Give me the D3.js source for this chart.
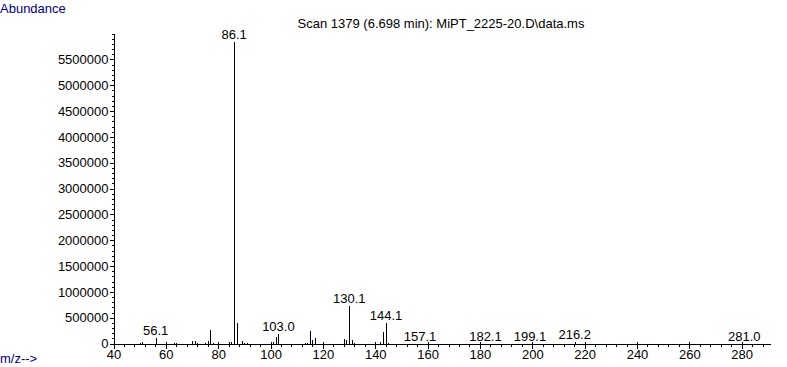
<!DOCTYPE html>
<html lang="en">
<head>
  <meta charset="UTF-8">
  <title>Scan 1379 - mass spectrum</title>
  <script src="https://d3js.org/d3.v7.min.js"></script>
  <style>
    body {
      margin: 0;
      background: #fff;
      font-family: 'Liberation Sans', Arial, sans-serif;
    }
    svg text {
      font-size: 13px;
      fill: #000;
    }
    .axis path, .axis line {
      stroke: #000;
      shape-rendering: crispEdges;
    }
    .peak {
      stroke: #000;
      stroke-width: 1;
      shape-rendering: crispEdges;
    }
    .blue { fill: #000080 !important; }
  </style>
</head>
<body>
<svg id="chart" width="787" height="367"></svg>
<script>
  // m/z of each peak and its abundance
  const mz = [50, 51, 56.1, 63, 64, 70, 71, 72, 75, 76, 77, 78, 84, 85, 86.1, 87, 89, 90, 91,
              101, 102, 103.0, 113, 114, 115, 116, 117, 128, 129, 130.1, 131, 132,
              140, 142, 143, 144.1, 145, 157.1, 182.1, 199.1, 216.2, 281.0];
  const abundance = [30000, 40000, 135000, 35000, 25000, 70000, 65000, 20000, 30000, 70000, 285000, 25000,
                     40000, 45000, 5860000, 420000, 70000, 35000, 35000,
                     50000, 145000, 205000, 20000, 25000, 260000, 90000, 130000, 100000, 95000, 745000, 85000, 25000,
                     15000, 55000, 250000, 425000, 20000, 15000, 10000, 12000, 45000, 10000];

  // labelled peaks
  const labelMz = [56.1, 86.1, 103.0, 130.1, 144.1, 157.1, 182.1, 199.1, 216.2, 281.0];

  const xTicks = d3.range(40, 281, 20);
  const yTicks = d3.range(0, 5500001, 500000);

  const title = "Scan 1379 (6.698 min): MiPT_2225-20.D\\data.ms";

  const svg = d3.select("#chart");

  const x = d3.scaleLinear().domain([40, 291]).range([113.5, 770.5]);
  const y = d3.scaleLinear().domain([0, 6000000]).range([343.5, 33.5]);

  const peaks = mz.map((m, i) => ({ mz: m, value: abundance[i] }));

  // minor y ticks
  svg.append("g")
    .attr("class", "axis")
    .attr("transform", "translate(113.5,0)")
    .call(d3.axisLeft(y).tickValues(d3.range(0, 6000001, 100000)).tickSize(2).tickSizeOuter(0).tickFormat(""))
    .call(g => g.select(".domain").remove());

  // major y ticks
  svg.append("g")
    .attr("class", "axis")
    .attr("transform", "translate(113.5,0)")
    .call(d3.axisLeft(y).tickValues(yTicks).tickSize(4).tickPadding(1).tickSizeOuter(0).tickFormat(d3.format("d")))
    .call(g => g.selectAll("text").attr("font-size", null));

  // minor x ticks
  svg.append("g")
    .attr("class", "axis")
    .attr("transform", "translate(0,343.5)")
    .call(d3.axisBottom(x).tickValues(d3.range(40, 291, 4)).tickSize(3).tickSizeOuter(0).tickFormat(""))
    .call(g => g.select(".domain").remove());

  // major x ticks
  const xAxis = svg.append("g")
    .attr("class", "axis")
    .attr("transform", "translate(0,343.5)")
    .call(d3.axisBottom(x).tickValues(xTicks).tickSize(5).tickPadding(1).tickSizeOuter(0))
    .call(g => g.selectAll("text").attr("font-size", null));
  xAxis.selectAll(".tick line").attr("y1", -2);

  svg.selectAll(".axis text").attr("font-family", null);
  svg.selectAll(".axis").attr("font-family", null).attr("font-size", null);

  // peaks
  svg.append("g")
    .selectAll("line")
    .data(peaks)
    .join("line")
    .attr("class", "peak")
    .attr("x1", d => Math.round(x(d.mz)) + 0.5)
    .attr("x2", d => Math.round(x(d.mz)) + 0.5)
    .attr("y1", y(0))
    .attr("y2", d => Math.round(y(d.value)) + 0.5);

  // peak labels, sitting above the highest peak under the label
  svg.append("g")
    .selectAll("text")
    .data(labelMz)
    .join("text")
    .attr("x", d => x(d))
    .attr("y", d => {
      const near = peaks.filter(p => Math.abs(x(p.mz) - x(d)) < 12);
      return y(d3.max(near, p => p.value)) - 2;
    })
    .attr("text-anchor", "middle")
    .text(d => d.toFixed(1));

  svg.append("text")
    .attr("x", 441)
    .attr("y", 28)
    .attr("text-anchor", "middle")
    .text(title);

  svg.append("text")
    .attr("class", "blue")
    .attr("x", 0)
    .attr("y", 13)
    .text("Abundance");

  svg.append("text")
    .attr("class", "blue")
    .attr("x", 0)
    .attr("y", 363)
    .text("m/z-->");
</script>
</body>
</html>
